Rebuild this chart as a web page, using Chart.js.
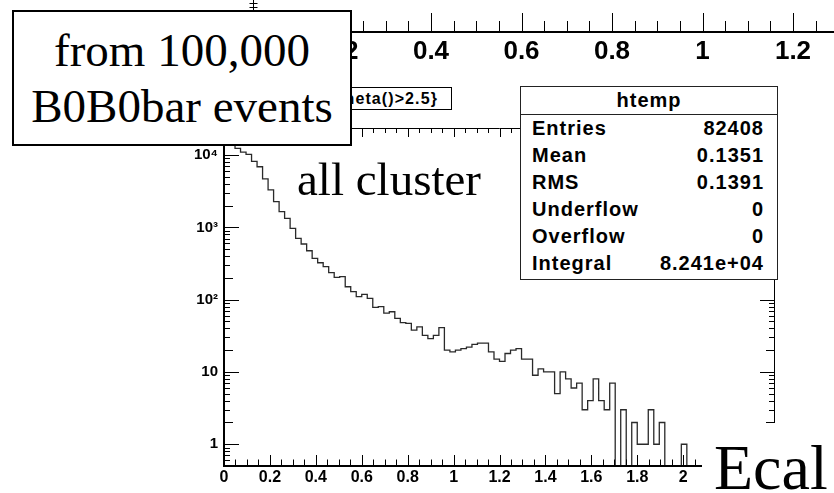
<!DOCTYPE html>
<html>
<head>
<meta charset="utf-8">
<script src="https://cdn.jsdelivr.net/npm/chart.js@4.4.1/dist/chart.umd.min.js"></script>
<style>
  html, body { margin: 0; padding: 0; background: #fff; }
  #wrap { position: relative; width: 834px; height: 493px; overflow: hidden; background: #fff; }
  canvas { position: absolute; left: 0; top: 0; }
  #upper { z-index: 1; }
  #ecalplot { z-index: 2; }
  .title { position: absolute; z-index: 3; left: 215px; top: 87px; width: 237px; height: 23px;
           box-sizing: border-box; border: 1px solid #000; background: #fff;
           font: bold 16px "Liberation Sans", Arial, sans-serif; line-height: 21px; letter-spacing: 1.1px;
           text-align: right; padding-right: 13px; color: #000; white-space: nowrap; overflow: hidden; }
  .stats { position: absolute; z-index: 3; left: 520px; top: 86px; width: 258px; height: 194px;
           box-sizing: border-box; border: 1px solid #222; background: #fff;
           font: bold 20px "Liberation Sans", Arial, sans-serif; letter-spacing: 1px; color: #000; }
  .stats .head { height: 27px; line-height: 26px; text-align: center; border-bottom: 1px solid #222; }
  .stats .row { display: flex; justify-content: space-between; height: 27px; line-height: 27px;
                padding: 0 13px 0 11px; }
  .serif { position: absolute; font-family: "Liberation Serif", "Times New Roman", serif; color: #000; white-space: nowrap; }
  .note { z-index: 4; left: 297px; top: 156px; font-size: 47px; line-height: 47px; }
  .ecal { z-index: 4; left: 702px; top: 423px; width: 140px; height: 80px; background: #fff; }
  .ecal span { position: absolute; left: 12px; top: 13px; font-size: 64px; line-height: 64px; }
  .from { z-index: 5; left: 12px; top: 10px; width: 340px; height: 136px; box-sizing: border-box;
          border: 2.5px solid #000; background: #fff; text-align: center;
          font-size: 47px; line-height: 56px; padding-top: 10px; }
</style>
</head>
<body>
<div id="wrap">
  <canvas id="upper" width="834" height="493"></canvas>
  <canvas id="ecalplot" width="834" height="493"></canvas>
  <div class="title">theta()&gt;2.5}</div>
  <div class="stats" id="stats"></div>
  <div class="serif note">all cluster</div>
  <div class="serif ecal"><span>Ecal</span></div>
  <div class="serif from">from 100,000<br>B0B0bar events</div>
</div>
<script>
// histogram binning (htemp: 100 bins from 0 to 2.4)
const xMin = 0;
const xMax = 2.4;
const binWidth = 0.024;

// cluster energy counts per bin
const counts = [
  14500, 13800, 12400, 11000, 10200, 8200, 6900, 4700, 3300, 2270,
  1650, 1335, 970, 706, 589, 475, 372, 324, 286, 236,
  204, 208, 151, 129, 110, 118, 104, 78, 80, 65,
  68, 55, 48, 47, 38, 42, 32, 29, 32, 41,
  20, 19, 20, 21, 22, 24, 25, 25, 19, 15,
  14, 18, 20, 21, 15, 15, 9, 11, 10, 10,
  5, 10, 8, 6, 7, 3, 4, 8, 4, 3,
  7, 0, 3, 0, 2, 1, 1, 3, 1, 2,
  0, 0, 0, 1, 0, 0, 0, 0, 0, 0,
  0, 0, 0, 0, 0, 0, 0, 0, 0, 0
];

// axis ticks
const xTickValues = [0, 0.2, 0.4, 0.6, 0.8, 1, 1.2, 1.4, 1.6, 1.8, 2, 2.2, 2.4];
const xTickLabels = ['0', '0.2', '0.4', '0.6', '0.8', '1', '1.2', '1.4', '1.6', '1.8', '2', '2.2', '2.4'];
const yTickValues = [1, 10, 100, 1000, 10000];
const yTickLabels = ['1', '10', '10\u00B2', '10\u00B3', '10\u2074'];
const yMin = 0.5;
const yMax = 23700;

// axis of the pad above
const upperXMax = 1.2906;
const upperTickValues = [0, 0.2, 0.4, 0.6, 0.8, 1, 1.2];
const upperTickLabels = ['0', '0.2', '0.4', '0.6', '0.8', '1', '1.2'];

// stats box
const statTitle = 'htemp';
const statNames = ['Entries', 'Mean', 'RMS', 'Underflow', 'Overflow', 'Integral'];
const statValues = ['82408', '0.1351', '0.1391', '0', '0', '8.241e+04'];

Chart.defaults.font.family = '"Liberation Sans", Arial, sans-serif';
Chart.defaults.color = '#000';

const stats = document.getElementById('stats');
stats.innerHTML = '<div class="head">' + statTitle + '</div>' +
  statNames.map((n, i) => '<div class="row"><span>' + n + '</span><span>' + statValues[i] + '</span></div>').join('');

// empty bins go below the frame so the outline drops to the axis
const zeroFloor = yMin / 20;
const points = counts.map((c, i) => ({ x: xMin + i * binWidth, y: c > 0 ? c : zeroFloor }));
points.push({ x: xMin + counts.length * binWidth, y: points[points.length - 1].y });

function seg(ctx, x0, y0, x1, y1) {
  ctx.beginPath();
  ctx.moveTo(x0, y0);
  ctx.lineTo(x1, y1);
  ctx.stroke();
}

// ROOT style frame with inward ticks
const rootFrame = {
  id: 'rootFrame',
  afterDraw(chart) {
    const { ctx, chartArea: a } = chart;
    const x = chart.scales.x, y = chart.scales.y;
    ctx.save();
    ctx.strokeStyle = '#000';
    ctx.lineWidth = 1;
    seg(ctx, a.left, a.top + 0.5, a.right, a.top + 0.5);
    seg(ctx, a.right - 0.5, a.top, a.right - 0.5, a.bottom);
    const step = 0.05;
    for (let k = 0; k * step <= x.max + 1e-9; k++) {
      const px = Math.round(x.getPixelForValue(k * step)) + 0.5;
      const major = k % 4 === 0;
      seg(ctx, px, a.bottom, px, a.bottom - (major ? 11 : 6.5));
      seg(ctx, px, a.top, px, a.top + (major ? 9 : 5));
    }
    for (let e = -1; e <= 4; e++) {
      for (let m = 1; m <= 9; m++) {
        const v = m * Math.pow(10, e);
        if (v < y.min || v > y.max) continue;
        const py = Math.round(y.getPixelForValue(v)) + 0.5;
        const len = m === 1 ? 15 : (m === 2 ? 9 : 6);
        seg(ctx, a.left, py, a.left + len, py);
        seg(ctx, a.right, py, a.right - len, py);
      }
    }
    ctx.lineWidth = 2;
    seg(ctx, a.left, a.top, a.left, a.bottom + 1);
    seg(ctx, a.left - 1, a.bottom, a.right, a.bottom);
    ctx.restore();
  }
};

new Chart(document.getElementById('ecalplot'), {
  type: 'line',
  data: {
    datasets: [{
      data: points,
      stepped: true,
      borderColor: '#2a2a2a',
      borderWidth: 1.3,
      pointRadius: 0,
      fill: false
    }]
  },
  options: {
    responsive: false,
    animation: false,
    devicePixelRatio: 1,
    layout: { padding: { left: 0, right: 59, top: 128, bottom: 0 } },
    plugins: { legend: { display: false }, tooltip: { enabled: false } },
    scales: {
      x: {
        type: 'linear', min: xMin, max: xMax,
        grid: { display: false, drawTicks: false },
        border: { display: false },
        afterBuildTicks: s => { s.ticks = xTickValues.map(v => ({ value: v })); },
        afterFit: s => { s.height = 27; },
        ticks: {
          padding: 2, maxRotation: 0, autoSkip: false,
          font: { size: 16, weight: 'bold' },
          callback: (v, i) => xTickLabels[i]
        }
      },
      y: {
        type: 'logarithmic', min: yMin, max: yMax,
        grid: { display: false, drawTicks: false },
        border: { display: false },
        afterBuildTicks: s => { s.ticks = yTickValues.map(v => ({ value: v })); },
        afterFit: s => { s.width = 224; },
        ticks: {
          padding: 6, autoSkip: false,
          font: { size: 15, weight: 'bold' },
          callback: (v, i) => yTickLabels[i]
        }
      }
    }
  },
  plugins: [rootFrame]
});

// bottom axis of the pad above, ticks pointing up
const upperAxis = {
  id: 'upperAxis',
  afterDraw(chart) {
    const { ctx, chartArea: a } = chart;
    const x = chart.scales.x;
    ctx.save();
    ctx.strokeStyle = '#000';
    ctx.lineWidth = 1;
    const step = 0.05;
    for (let k = 0; k * step <= x.max + 1e-9; k++) {
      const px = Math.round(x.getPixelForValue(k * step)) + 0.5;
      seg(ctx, px, a.bottom, px, a.bottom - (k % 4 === 0 ? 19 : 11));
    }
    const lx = Math.round(x.getPixelForValue(0)) + 3.5;
    seg(ctx, lx, a.top, lx, a.bottom);
    seg(ctx, lx - 4, a.top + 3.5, lx + 4, a.top + 3.5);
    seg(ctx, lx - 4, a.top + 7.5, lx + 4, a.top + 7.5);
    ctx.lineWidth = 2;
    seg(ctx, a.left, a.bottom, a.right, a.bottom);
    ctx.restore();
  }
};

new Chart(document.getElementById('upper'), {
  type: 'line',
  data: { datasets: [] },
  options: {
    responsive: false,
    animation: false,
    devicePixelRatio: 1,
    layout: { padding: { left: 250, right: 0, top: 0, bottom: 0 } },
    plugins: { legend: { display: false }, tooltip: { enabled: false } },
    scales: {
      x: {
        type: 'linear', min: 0, max: upperXMax,
        grid: { display: false, drawTicks: false },
        border: { display: false },
        afterBuildTicks: s => { s.ticks = upperTickValues.map(v => ({ value: v })); },
        afterFit: s => { s.height = 461; },
        ticks: {
          padding: 4, maxRotation: 0, autoSkip: false,
          font: { size: 26, weight: 'bold' },
          callback: (v, i) => upperTickLabels[i]
        }
      },
      y: { display: false, min: 0, max: 1 }
    }
  },
  plugins: [upperAxis]
});
</script>
</body>
</html>
